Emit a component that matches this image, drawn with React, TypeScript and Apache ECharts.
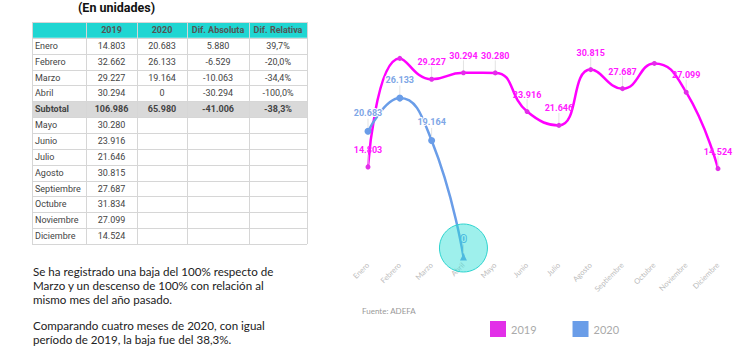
import React, { useEffect, useRef } from "react";
import * as echarts from "echarts";

const months = ["Enero", "Febrero", "Marzo", "Abril", "Mayo", "Junio", "Julio", "Agosto", "Septiembre", "Octubre", "Noviembre", "Diciembre"];
const sales2019 = [14803, 32662, 29227, 30294, 30280, 23916, 21646, 30815, 27687, 31834, 27099, 14524];
const sales2020 = [20683, 26133, 19164, 0];
const hiddenLabels2019 = [1, 9];
const difAbs = [5880, -6529, -10063, -30294];
const difRel = ["39,7%", "-20,0%", "-34,4%", "-100,0%"];
const subtotalRow = ["Subtotal", "106.986", "65.980", "-41.006", "-38,3%"];
const tableHeaders = ["", "2019", "2020", "Dif. Absoluta", "Dif. Relativa"];
const paragraph1 = ["Se ha registrado una baja del 100% respecto de", "Marzo y un descenso de 100% con relación al", "mismo mes del año pasado."];
const paragraph2 = ["Comparando cuatro meses de 2020, con igual", "período de 2019, la baja fue del 38,3%."];

const fmt = (v: number) => {
  const s = String(Math.abs(v)).replace(/\B(?=(\d{3})+(?!\d))/g, ".");
  return (v < 0 ? "-" : "") + s;
};

function buildTable(): any[] {
  const colX = [32, 86, 137, 187, 249, 307];
  const y0 = 22;
  const rh = 15.86;
  const rows: { cells: string[]; kind: string }[] = [];
  rows.push({ cells: tableHeaders, kind: "header" });
  for (let i = 0; i < 4; i++) {
    rows.push({ cells: [months[i], fmt(sales2019[i]), fmt(sales2020[i]), fmt(difAbs[i]), difRel[i]], kind: "body" });
  }
  rows.push({ cells: subtotalRow, kind: "subtotal" });
  for (let i = 4; i < 12; i++) {
    rows.push({ cells: [months[i], fmt(sales2019[i]), "", "", ""], kind: "body" });
  }
  const els: any[] = [];
  const totalW = colX[colX.length - 1] - colX[0];
  rows.forEach((r, ri) => {
    const top = y0 + ri * rh;
    if (r.kind === "header") {
      els.push({ type: "rect", shape: { x: colX[0], y: top, width: totalW, height: rh }, style: { fill: "#1fd6d2" } });
    } else if (r.kind === "subtotal") {
      els.push({ type: "rect", shape: { x: colX[0], y: top, width: totalW, height: rh }, style: { fill: "#d9d9d9" } });
    }
  });
  for (let ri = 0; ri <= rows.length; ri++) {
    const y = Math.round(y0 + ri * rh) + 0.5;
    els.push({ type: "line", shape: { x1: colX[0], y1: y, x2: colX[5], y2: y }, style: { stroke: "#d6d6d6", lineWidth: 1 } });
  }
  colX.forEach((x) => {
    els.push({ type: "line", shape: { x1: x + 0.5, y1: y0, x2: x + 0.5, y2: y0 + rows.length * rh }, style: { stroke: "#d6d6d6", lineWidth: 1 } });
  });
  rows.forEach((r, ri) => {
    const cy = y0 + ri * rh + rh / 2;
    r.cells.forEach((c, ci) => {
      if (!c) return;
      const bold = r.kind !== "body";
      const left = ci === 0;
      els.push({
        type: "text",
        x: left ? colX[0] + 3 : (colX[ci] + colX[ci + 1]) / 2,
        y: cy,
        style: {
          text: c,
          fill: r.kind === "header" ? "#555" : "#444",
          font: `${bold ? "bold " : ""}9px Roboto`,
          align: left ? "left" : "center",
          verticalAlign: "middle",
        },
      });
    });
  });
  return els;
}

export default function App() {
  const ref = useRef<HTMLDivElement>(null);
  useEffect(() => {
    if (!ref.current) return;
    const chart = echarts.init(ref.current, null, { renderer: "svg" });
    const textEls: any[] = [];
    textEls.push({
      type: "text", x: 78, y: 7,
      style: { text: "(En unidades)", font: "bold 12.5px Roboto", fill: "#111", verticalAlign: "middle" },
    });
    paragraph1.forEach((t, i) => {
      textEls.push({ type: "text", x: 33, y: 271 + i * 14, style: { text: t, font: "11.6px Lato", fill: "#222", verticalAlign: "middle" } });
    });
    paragraph2.forEach((t, i) => {
      textEls.push({ type: "text", x: 33, y: 325 + i * 14, style: { text: t, font: "11.6px Lato", fill: "#222", verticalAlign: "middle" } });
    });
    textEls.push({ type: "text", x: 362, y: 311, style: { text: "Fuente: ADEFA", font: "8px Lato", fill: "#999", verticalAlign: "middle" } });

    const data2019 = sales2019.map((v, i) =>
      hiddenLabels2019.includes(i) ? { value: v, label: { show: false }, labelLine: { show: false } } : v
    );
    const data2020 = sales2020.map((v) =>
      v === 0
        ? { value: v, symbol: "triangle", symbolSize: 7, label: { color: "#fff", textBorderColor: "#6a9de8", textBorderWidth: 2 } }
        : v
    );

    const option: any = {
      animation: false,
      backgroundColor: "#fff",
      grid: { left: 368, right: 16, top: 55, height: 202 },
      xAxis: {
        type: "category",
        data: months,
        boundaryGap: false,
        axisLine: { show: false },
        axisTick: { show: false },
        splitLine: { show: false },
        axisLabel: { rotate: 45, fontSize: 7.5, color: "#bbb", margin: 7, interval: 0, fontFamily: "Lato" },
      },
      yAxis: { type: "value", min: 0, max: 33220, show: false, splitLine: { show: false } },
      legend: {
        left: 485,
        top: 316,
        itemWidth: 16,
        itemHeight: 16,
        itemGap: 36,
        icon: "rect",
        textStyle: { color: "#aaa", fontSize: 11, fontFamily: "Lato" },
        data: ["2019", "2020"],
      },
      series: [
        {
          name: "2019",
          type: "line",
          data: data2019,
          smooth: 0.5,
          symbol: "circle",
          symbolSize: 5,
          lineStyle: { color: "#ff00ff", width: 2.5 },
          itemStyle: { color: "#e22fe8" },
          label: {
            show: true,
            position: "top",
            distance: 5,
            color: "#ff1aff",
            fontWeight: "bold",
            fontSize: 9,
            fontFamily: "Roboto",
            formatter: (p: any) => fmt(p.value),
          },
          labelLayout: { dy: -5 },
          labelLine: { show: true, lineStyle: { color: "#e3e3e3", width: 1 } },
          z: 3,
        },
        {
          name: "2020",
          type: "line",
          data: data2020,
          smooth: 0.5,
          symbol: "circle",
          symbolSize: 7,
          lineStyle: { color: "#6a9de8", width: 2.5 },
          itemStyle: { color: "#6a9de8" },
          label: {
            show: true,
            position: "top",
            distance: 5,
            color: "#7ea6e6",
            fontWeight: "bold",
            fontSize: 9,
            fontFamily: "Roboto",
            textBorderColor: "#fff",
            textBorderWidth: 2,
            formatter: (p: any) => fmt(p.value),
          },
          labelLayout: { dy: -5 },
          labelLine: { show: true, lineStyle: { color: "#e3e3e3", width: 1 } },
          markPoint: {
            silent: true,
            data: [
              {
                coord: [3, 0],
                symbol: "circle",
                symbolSize: 48,
                symbolOffset: [0, -9],
                itemStyle: { color: "rgba(40,222,212,0.45)", borderColor: "#2dd4cf", borderWidth: 1 },
                label: { show: false },
              },
            ],
          },
          z: 4,
        },
      ],
      graphic: [...buildTable(), ...textEls],
    };
    chart.setOption(option);
    return () => chart.dispose();
  }, []);
  return <div ref={ref} style={{ position: "fixed", left: 0, top: 0, width: 734, height: 355 }} />;
}
